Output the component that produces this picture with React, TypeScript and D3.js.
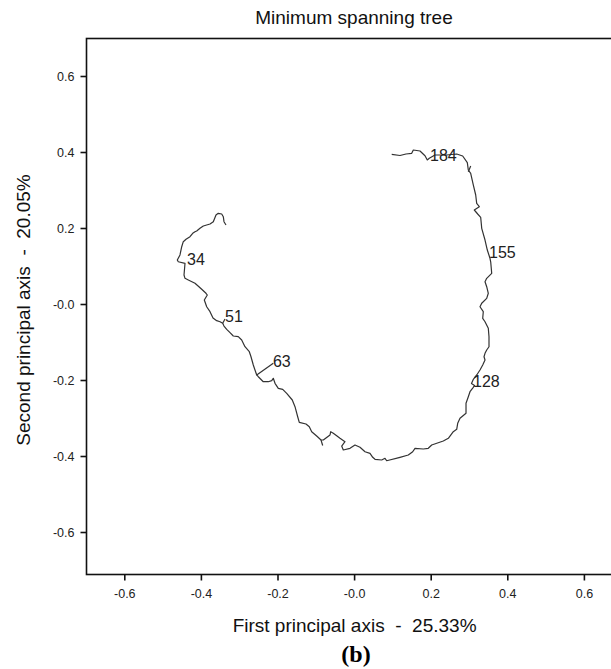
import React from "react";
import * as d3 from "d3";

const W = 611;
const H = 669;

const titleText = "Minimum spanning tree";
const xAxisTitle = "First principal axis  -  25.33%";
const yAxisTitle = "Second principal axis  -  20.05%";
const panelLabel = "(b)";

const xTicks = [-0.6, -0.4, -0.2, 0, 0.2, 0.4, 0.6];
const yTicks = [0.6, 0.4, 0.2, 0, -0.2, -0.4, -0.6];
const tickLabel = (v: number) => (v === 0 ? "-0.0" : v.toFixed(1));

// main chain of the minimum spanning tree (first axis, second axis)
const treeX = [
  0.0969, 0.1185, 0.1342, 0.1491, 0.1533, 0.1708, 0.1838, 0.1898, 0.195, 0.2099,
  0.2405, 0.2666, 0.2822, 0.2943, 0.2969, 0.3031, 0.3099, 0.3162, 0.3188, 0.3256,
  0.3125, 0.3214, 0.3292, 0.3319, 0.3405, 0.3465, 0.3535, 0.3554, 0.358, 0.3449,
  0.3405, 0.3449, 0.3491, 0.3449, 0.3319, 0.3274, 0.336, 0.3345, 0.3405, 0.3491,
  0.3509, 0.3509, 0.3449, 0.3405, 0.3379, 0.3405, 0.3345, 0.3274, 0.3188, 0.3104,
  0.3052, 0.3131, 0.3099, 0.3013, 0.2969, 0.2909, 0.2909, 0.2752, 0.2692, 0.2666,
  0.2577, 0.2447, 0.2316, 0.2013, 0.1924, 0.1794, 0.1577, 0.1517, 0.1402, 0.1185,
  0.0838, 0.0794, 0.0708, 0.0533, 0.0473, 0.0402, 0.0272, 0.0141, 0.001, -0.012,
  -0.0295, -0.0337, -0.0251, -0.0381, -0.0556, -0.0624, -0.0642, -0.0817, -0.0877, -0.099,
  -0.112, -0.1183, -0.1269, -0.1444, -0.1486, -0.1556, -0.1627, -0.1773, -0.1877, -0.1992,
  -0.2078, -0.2123, -0.2164, -0.2253, -0.2384, -0.2514, -0.2556, -0.2601, -0.2645, -0.2705,
  -0.2749, -0.2862, -0.2948, -0.3037, -0.3167, -0.3253, -0.3339, -0.341, -0.3444, -0.3514,
  -0.3601, -0.3697, -0.3775, -0.3862, -0.3924, -0.3846, -0.388, -0.3992, -0.4167, -0.4342,
  -0.4428, -0.4454, -0.4428, -0.4603, -0.4629, -0.4559, -0.4514, -0.4473, -0.4402, -0.4298,
  -0.4227, -0.4167, -0.4123, -0.4037, -0.395, -0.3775, -0.3689, -0.3619, -0.3559, -0.347,
  -0.3428, -0.341, -0.3358,
];
const treeY = [
  0.3953, 0.3921, 0.3961, 0.3979, 0.4066, 0.4039, 0.3916, 0.3803, 0.3847, 0.3934,
  0.3934, 0.3961, 0.3908, 0.3732, 0.3539, 0.3453, 0.3145, 0.2882, 0.2663, 0.2574,
  0.2487, 0.2382, 0.2295, 0.2005, 0.1697, 0.1434, 0.1216, 0.1118, 0.0821, 0.0689,
  0.06, 0.0468, 0.0295, 0.0163, 0.0032, -0.0058, -0.0189, -0.0363, -0.0453, -0.0626,
  -0.0847, -0.1111, -0.1197, -0.1284, -0.1374, -0.1461, -0.1592, -0.1724, -0.1855, -0.1961,
  -0.2079, -0.2132, -0.2179, -0.2295, -0.2426, -0.26, -0.2863, -0.2995, -0.3126, -0.3284,
  -0.3347, -0.3521, -0.3592, -0.3697, -0.3784, -0.3803, -0.3784, -0.3874, -0.3961, -0.4021,
  -0.4111, -0.4047, -0.4092, -0.4074, -0.4021, -0.3916, -0.3874, -0.3758, -0.3697, -0.3784,
  -0.3829, -0.3724, -0.3611, -0.3521, -0.3389, -0.3347, -0.3434, -0.3566, -0.3566, -0.3461,
  -0.3347, -0.3216, -0.3145, -0.31, -0.2953, -0.2689, -0.2513, -0.2337, -0.2232, -0.2205,
  -0.2074, -0.1942, -0.2005, -0.2032, -0.2032, -0.19, -0.1855, -0.1724, -0.1592, -0.1374,
  -0.1242, -0.1111, -0.0934, -0.0847, -0.0829, -0.0742, -0.0653, -0.0566, -0.0495, -0.0453,
  -0.0426, -0.0355, -0.0189, -0.0058, 0.0118, 0.025, 0.0295, 0.04, 0.0558, 0.0645,
  0.0689, 0.0776, 0.1084, 0.1126, 0.1171, 0.1303, 0.1521, 0.1653, 0.1716, 0.1784,
  0.1874, 0.1916, 0.1934, 0.2005, 0.2066, 0.2118, 0.2179, 0.2355, 0.24, 0.2382,
  0.2311, 0.2179, 0.2092,
];

// short side branches of the tree
const branchX = [
  [0.2969, 0.3031],
  [-0.0877, -0.0833],
];
const branchY = [
  [0.3495, 0.3645],
  [-0.3566, -0.3711],
];

// labelled nodes: node position and label anchor
const nodeNames = ["184", "155", "128", "63", "51", "34"];
const nodeX = [0.2099, 0.3535, 0.3052, -0.2556, -0.3444, -0.4428];
const nodeY = [0.3934, 0.1216, -0.2079, -0.1855, -0.0495, 0.1084];
const labelX = [0.1969, 0.3509, 0.3091, -0.2131, -0.3384, -0.4376];
const labelY = [0.3789, 0.1224, -0.2171, -0.1645, -0.0461, 0.1039];
const leaderEndX = [null, null, null, -0.2123, -0.3384, null];
const leaderEndY = [null, null, null, -0.1545, -0.0382, null];

export default function App() {
  const x = d3.scaleLinear().domain([-0.7, 0.7]).range([86.5, 622.7]);
  const y = d3.scaleLinear().domain([-0.7105, 0.7]).range([574.5, 38.5]);

  const pts: [number, number][] = treeX.map((v, i) => [v, treeY[i]]);
  const line = d3
    .line<[number, number]>()
    .x((d) => x(d[0]))
    .y((d) => y(d[1]));

  const font = "'Liberation Sans', Arial, Helvetica, sans-serif";
  const lineColor = "#333";
  const x0 = x(-0.7);
  const y0 = y(-0.7105);
  const yTop = y(0.7);

  return (
    <svg
      width={W}
      height={H}
      style={{ position: "absolute", left: 0, top: 0, background: "#fff" }}
      fontFamily={font}
    >
      <rect x={0} y={0} width={W} height={H} fill="#fff" />
      <text x={354} y={24} fontSize={19} textAnchor="middle" fill="#111">
        {titleText}
      </text>

      {/* frame */}
      <rect
        x={x0}
        y={yTop}
        width={x(0.7) - x0}
        height={y0 - yTop}
        fill="none"
        stroke="#111"
        strokeWidth={1.6}
      />

      {/* y ticks */}
      {yTicks.map((t) => (
        <g key={"y" + t}>
          <line x1={x0 - 6} x2={x0} y1={y(t)} y2={y(t)} stroke="#111" strokeWidth={1.6} />
          <text x={x0 - 12} y={y(t)} dy="0.35em" fontSize={12.5} textAnchor="end" fill="#222">
            {tickLabel(t)}
          </text>
        </g>
      ))}

      {/* x ticks */}
      {xTicks.map((t) => (
        <g key={"x" + t}>
          <line x1={x(t)} x2={x(t)} y1={y0} y2={y0 + 6} stroke="#111" strokeWidth={1.6} />
          <text x={x(t)} y={598} fontSize={12.5} textAnchor="middle" fill="#222">
            {tickLabel(t)}
          </text>
        </g>
      ))}

      <text x={354.6} y={632} fontSize={19} textAnchor="middle" fill="#111" style={{ whiteSpace: "pre" }}>
        {xAxisTitle}
      </text>
      <text
        transform={`translate(30,310) rotate(-90)`}
        fontSize={19}
        textAnchor="middle"
        fill="#111"
        style={{ whiteSpace: "pre" }}
      >
        {yAxisTitle}
      </text>

      {/* tree */}
      <path d={line(pts) || ""} fill="none" stroke={lineColor} strokeWidth={1.2} strokeLinejoin="round" />
      {branchX.map((bx, i) => (
        <path
          key={"b" + i}
          d={line(bx.map((v, j) => [v, branchY[i][j]] as [number, number])) || ""}
          fill="none"
          stroke={lineColor}
          strokeWidth={1.2}
        />
      ))}
      {nodeNames.map((n, i) => (
        <g key={"n" + n}>
          {leaderEndX[i] !== null && (
            <line
              x1={x(nodeX[i])}
              y1={y(nodeY[i])}
              x2={x(leaderEndX[i] as number)}
              y2={y(leaderEndY[i] as number)}
              stroke={lineColor}
              strokeWidth={1.2}
            />
          )}
          <text x={x(labelX[i])} y={y(labelY[i])} fontSize={16} fill="#222">
            {n}
          </text>
        </g>
      ))}

      <text
        x={356}
        y={662}
        fontSize={24}
        fontWeight="bold"
        textAnchor="middle"
        fontFamily="'Liberation Serif', 'Times New Roman', serif"
        fill="#000"
      >
        {panelLabel}
      </text>
    </svg>
  );
}
